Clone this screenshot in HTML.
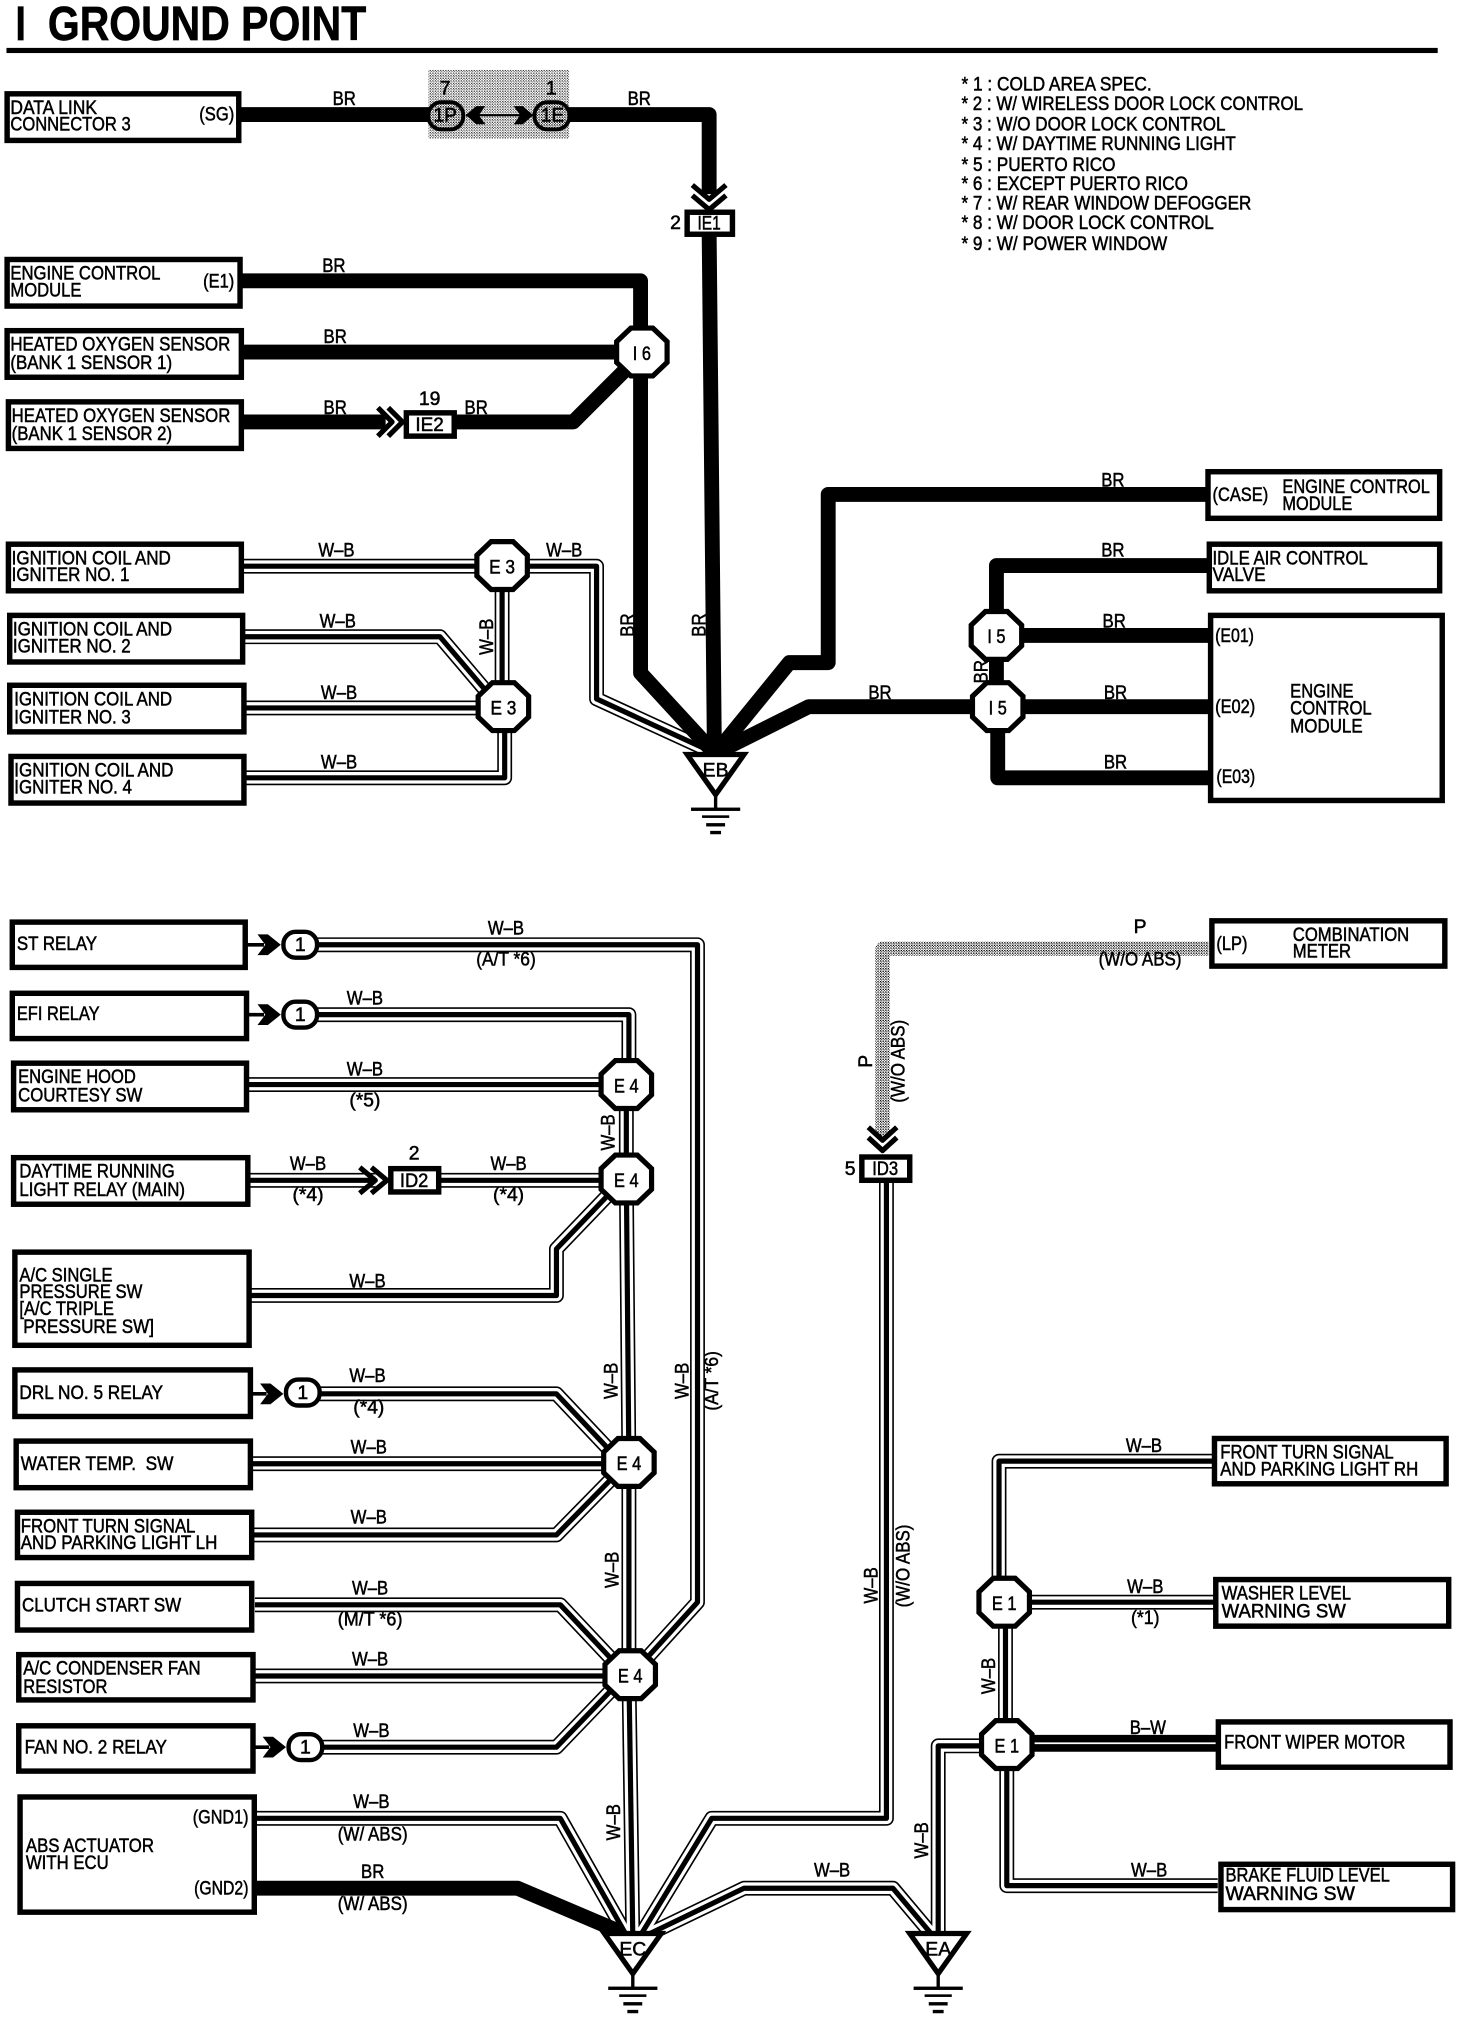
<!DOCTYPE html>
<html>
<head>
<meta charset="utf-8">
<title>Ground Point</title>
<style>
html,body{margin:0;padding:0;background:#fff;width:1472px;height:2028px;overflow:hidden}
svg{display:block}
text{font-family:"Liberation Sans",Arial,sans-serif;font-size:15px;fill:#000;stroke:#000;stroke-width:.4}
.m{text-anchor:middle}
.b{fill:#fff;stroke:#000;stroke-width:4.2}
.n{fill:none;stroke-linejoin:round}
</style>
</head>
<body>
<svg xmlns="http://www.w3.org/2000/svg" width="1472" height="2028" viewBox="0 0 1137.5 1567" preserveAspectRatio="none">
<defs>
<pattern id="d1" width="2" height="2" patternUnits="userSpaceOnUse"><rect width="2" height="2" fill="#fff"/><rect width="1" height="1" fill="#000"/><rect x="1" y="1" width=".7" height=".7" fill="#000"/></pattern>
<polygon id="oct" points="-8.500,-18.500 8.500,-18.500 19.500,-8 19.500,8 8.500,18.500 -8.500,18.500 -19.500,8 -19.500,-8" fill="#fff" stroke="#000" stroke-width="4"/>
<rect id="conn" x="-13" y="-10" width="26" height="20" rx="9.5" fill="#fff" stroke="#000" stroke-width="3.4"/>
<path id="sch" d="M-19 -8H-11L-1 0L-11 8H-19L-13 0Z M-32 -1.4H-14V1.4H-32Z" fill="#000"/>
<g id="gnd">
<polygon points="-22,1 22,1 0,32" fill="#fff" stroke="#000" stroke-width="4" stroke-linejoin="miter"/>
<path d="M0 32V43" stroke="#000" stroke-width="2.6"/>
<rect x="-19" y="42" width="38" height="2.6"/>
<rect x="-10.500" y="48" width="21" height="2"/>
<rect x="-7.300" y="54" width="14.600" height="2.600"/>
<rect x="-4.200" y="60" width="8.400" height="2.600"/>
</g>
<g id="wb" class="n">
<path d="M188 437.5H461V540L548 580"/>
<path d="M388 437V546"/>
<path d="M189 492H340L374 532"/>
<path d="M190 547H380"/>
<path d="M190 601H390V555"/>
<path d="M240 730H539V1238L490 1292"/>
<path d="M240 784H486V838"/>
<path d="M192 838H480"/>
<path d="M484 838L484 911L486 1130L486 1294L489 1497"/>
<path d="M193 912H290"/>
<path d="M335 912H480"/>
<path d="M194 1001H430V965L478 915"/>
<path d="M245 1077H430L480 1130"/>
<path d="M195 1131H480"/>
<path d="M196 1186H430L480 1135"/>
<path d="M197 1240H433L482 1292"/>
<path d="M197 1295H480"/>
<path d="M245 1350H430L482 1296"/>
<path d="M198 1405H433L485 1497"/>
<path d="M685 905V1405H550L494 1497"/>
<path d="M496 1497L575 1459H690L722 1497"/>
<path d="M937 1129H772V1238"/>
<path d="M790 1238H938"/>
<path d="M777 1238V1348"/>
<path d="M778 1348V1457H941"/>
<path d="M770 1349H725V1497"/>
</g>
</defs>
<rect width="1137.5" height="1567" fill="#fff"/>

<text x="12" y="31" style="font-size:37px;font-weight:bold;stroke-width:.5" textLength="8" lengthAdjust="spacingAndGlyphs">I</text>
<text x="37" y="31" style="font-size:37px;font-weight:bold;stroke-width:.5" textLength="246" lengthAdjust="spacingAndGlyphs">GROUND POINT</text>
<rect x="5" y="37" width="1106" height="4"/>

<rect x="331" y="54" width="109" height="53" fill="url(#d1)" opacity=".75"/>

<use href="#wb" stroke="#000" stroke-width="11.5"/>
<use href="#wb" stroke="#fff" stroke-width="9"/>
<use href="#wb" stroke="#000" stroke-width="4"/>

<!-- BR thick -->
<g class="n" stroke="#000" stroke-width="11.5">
<path d="M186 88.5H332"/>
<path d="M438 88.5H548V150"/>
<path d="M548 180L552 575L553 582"/>
<path d="M187 217H495V272V520L552 582"/>
<path d="M188 272H480"/>
<path d="M188 326H298"/>
<path d="M351 326H443L487 282"/>
<path d="M932 382H640V512H610L553 582"/>
<path d="M933 437H770V546"/>
<path d="M770 491H934"/>
<path d="M770 546H934"/>
<path d="M770 546H625L553 582"/>
<path d="M771 546V601H934"/>
<path d="M198 1459H400L480 1493"/>
<path d="M798 1347H940" stroke-width="13"/>
</g>
<path d="M798 1347H940" stroke="#fff" stroke-width="1.4"/>

<!-- P wire -->
<path class="n" d="M934 733H682V878" stroke="url(#d1)" stroke-width="11"/>

<!-- chevrons -->
<g class="n" stroke="#000" stroke-width="4" stroke-linejoin="miter">
<path d="M535 143L548 154L561 143M535 151L548 162L561 151"/>
<path d="M292 315L303 326L292 337M300 315L311 326L300 337"/>
<path d="M278 902L290 912L278 922M287 902L299 912L287 922"/>
<path d="M671 871L682 881L693 871M671 879L682 889L693 879"/>
</g>

<!-- double-arrow between 1P and 1E -->
<path d="M360 89H412" stroke="#000" stroke-width="1.6"/>
<path d="M360 89L368 82H375L370 89L375 96H368Z M412 89L404 82H397L402 89L397 96H404Z" fill="#000"/>
<rect x="331" y="79" width="27" height="21" rx="10" fill="url(#d1)" stroke="#000" stroke-width="3"/>
<rect x="413" y="79" width="27" height="21" rx="10" fill="url(#d1)" stroke="#000" stroke-width="3"/>
<text class="m" x="344" y="94" textLength="18" lengthAdjust="spacingAndGlyphs">1P</text>
<text class="m" x="427" y="94" textLength="18" lengthAdjust="spacingAndGlyphs">1E</text>
<text class="m" x="344" y="73">7</text>
<text class="m" x="426" y="73">1</text>

<!-- Connector boxes -->
<rect class="b" x="531" y="164" width="35" height="17"/>
<text class="m" x="548" y="177.500" textLength="18" lengthAdjust="spacingAndGlyphs">IE1</text>
<text class="m" x="522" y="177">2</text>
<rect class="b" x="314" y="319" width="37" height="18"/>
<text class="m" x="332" y="333" textLength="22" lengthAdjust="spacingAndGlyphs">IE2</text>
<text class="m" x="332" y="313">19</text>
<rect class="b" x="302" y="903" width="37" height="18"/>
<text class="m" x="320" y="917" textLength="22" lengthAdjust="spacingAndGlyphs">ID2</text>
<text class="m" x="320" y="896">2</text>
<rect class="b" x="666" y="894" width="37" height="18"/>
<text class="m" x="684" y="908" textLength="20" lengthAdjust="spacingAndGlyphs">ID3</text>
<text class="m" x="657" y="908">5</text>

<!-- small relay connectors -->
<use href="#sch" x="218" y="730"/><use href="#conn" x="232" y="730"/><text class="m" x="232" y="735">1</text>
<use href="#sch" x="218" y="784"/><use href="#conn" x="232" y="784"/><text class="m" x="232" y="789">1</text>
<use href="#sch" x="220" y="1077"/><use href="#conn" x="234" y="1076"/><text class="m" x="234" y="1081">1</text>
<use href="#sch" x="222" y="1350"/><use href="#conn" x="236" y="1350"/><text class="m" x="236" y="1355">1</text>

<!-- junctions -->
<use href="#oct" x="496" y="272"/><text class="m" x="496" y="278" textLength="14" lengthAdjust="spacingAndGlyphs">I 6</text>
<use href="#oct" x="388" y="437"/><text class="m" x="388" y="443" textLength="20" lengthAdjust="spacingAndGlyphs">E 3</text>
<use href="#oct" x="389" y="546"/><text class="m" x="389" y="552" textLength="20" lengthAdjust="spacingAndGlyphs">E 3</text>
<use href="#oct" x="770" y="491"/><text class="m" x="770" y="497" textLength="14" lengthAdjust="spacingAndGlyphs">I 5</text>
<use href="#oct" x="771" y="546"/><text class="m" x="771" y="552" textLength="14" lengthAdjust="spacingAndGlyphs">I 5</text>
<use href="#oct" x="484" y="838"/><text class="m" x="484" y="844" textLength="19" lengthAdjust="spacingAndGlyphs">E 4</text>
<use href="#oct" x="484" y="911"/><text class="m" x="484" y="917" textLength="19" lengthAdjust="spacingAndGlyphs">E 4</text>
<use href="#oct" x="486" y="1130"/><text class="m" x="486" y="1136" textLength="19" lengthAdjust="spacingAndGlyphs">E 4</text>
<use href="#oct" x="487" y="1294"/><text class="m" x="487" y="1300" textLength="19" lengthAdjust="spacingAndGlyphs">E 4</text>
<use href="#oct" x="776" y="1238"/><text class="m" x="776" y="1244" textLength="19" lengthAdjust="spacingAndGlyphs">E 1</text>
<use href="#oct" x="778" y="1348"/><text class="m" x="778" y="1354" textLength="19" lengthAdjust="spacingAndGlyphs">E 1</text>

<!-- ground triangles -->
<use href="#gnd" x="553" y="582"/><text class="m" x="553" y="600">EB</text>
<use href="#gnd" x="489" y="1493"/><text class="m" x="489" y="1511">EC</text>
<use href="#gnd" x="725" y="1493"/><text class="m" x="725" y="1511">EA</text>

<!-- boxes -->
<g class="b">
<rect x="5.500" y="72.500" width="179" height="36"/>
<rect x="5.500" y="200.500" width="180" height="36"/>
<rect x="5.500" y="255.500" width="181" height="36"/>
<rect x="6.500" y="310.500" width="180" height="36"/>
<rect x="6.500" y="420.500" width="180" height="36"/>
<rect x="7.500" y="475.500" width="180" height="36"/>
<rect x="7.500" y="529.500" width="181" height="36"/>
<rect x="8.500" y="584.500" width="180" height="36"/>
<rect x="933.500" y="364.500" width="179" height="36"/>
<rect x="934.500" y="420.500" width="178" height="36"/>
<rect x="935.500" y="475.500" width="179" height="143"/>
<rect x="9.500" y="712.500" width="180" height="35"/>
<rect x="9.500" y="767.500" width="181" height="35"/>
<rect x="10.500" y="821.500" width="180" height="36"/>
<rect x="10.500" y="894.500" width="181" height="36"/>
<rect x="11.500" y="967.500" width="181" height="72"/>
<rect x="11.500" y="1058.500" width="182" height="36"/>
<rect x="12.500" y="1113.500" width="181" height="36"/>
<rect x="13.500" y="1168.500" width="181" height="35"/>
<rect x="13.500" y="1223.500" width="181" height="36"/>
<rect x="14.500" y="1278.500" width="181" height="35"/>
<rect x="14.500" y="1333.500" width="181" height="35"/>
<rect x="15.500" y="1388.500" width="181" height="89"/>
<rect x="936.500" y="711.500" width="180" height="35"/>
<rect x="938.500" y="1111.500" width="179" height="35"/>
<rect x="939.500" y="1220.500" width="180" height="36"/>
<rect x="941.500" y="1330.500" width="179" height="35"/>
<rect x="943.500" y="1440.500" width="179" height="35"/>
</g>

<!-- Box labels -->
<g>
<text x="8" y="88" textLength="67" lengthAdjust="spacingAndGlyphs">DATA LINK</text>
<text x="8" y="101" textLength="93" lengthAdjust="spacingAndGlyphs">CONNECTOR 3</text>
<text x="154" y="93" textLength="27" lengthAdjust="spacingAndGlyphs">(SG)</text>
<text x="8" y="216" textLength="116" lengthAdjust="spacingAndGlyphs">ENGINE CONTROL</text>
<text x="8" y="229" textLength="55" lengthAdjust="spacingAndGlyphs">MODULE</text>
<text x="157" y="222" textLength="24" lengthAdjust="spacingAndGlyphs">(E1)</text>
<text x="8" y="271" textLength="170" lengthAdjust="spacingAndGlyphs">HEATED OXYGEN SENSOR</text>
<text x="8" y="285" textLength="125" lengthAdjust="spacingAndGlyphs">(BANK 1 SENSOR 1)</text>
<text x="9" y="326" textLength="169" lengthAdjust="spacingAndGlyphs">HEATED OXYGEN SENSOR</text>
<text x="9" y="340" textLength="124" lengthAdjust="spacingAndGlyphs">(BANK 1 SENSOR 2)</text>
<text x="9" y="436" textLength="123" lengthAdjust="spacingAndGlyphs">IGNITION COIL AND</text>
<text x="9" y="449" textLength="91" lengthAdjust="spacingAndGlyphs">IGNITER NO. 1</text>
<text x="10" y="491" textLength="123" lengthAdjust="spacingAndGlyphs">IGNITION COIL AND</text>
<text x="10" y="504" textLength="91" lengthAdjust="spacingAndGlyphs">IGNITER NO. 2</text>
<text x="11" y="545" textLength="122" lengthAdjust="spacingAndGlyphs">IGNITION COIL AND</text>
<text x="11" y="559" textLength="90" lengthAdjust="spacingAndGlyphs">IGNITER NO. 3</text>
<text x="11" y="600" textLength="123" lengthAdjust="spacingAndGlyphs">IGNITION COIL AND</text>
<text x="11" y="613" textLength="91" lengthAdjust="spacingAndGlyphs">IGNITER NO. 4</text>
<text x="937" y="387" textLength="43" lengthAdjust="spacingAndGlyphs">(CASE)</text>
<text x="991" y="381" textLength="114" lengthAdjust="spacingAndGlyphs">ENGINE CONTROL</text>
<text x="991" y="394" textLength="54" lengthAdjust="spacingAndGlyphs">MODULE</text>
<text x="937" y="436" textLength="120" lengthAdjust="spacingAndGlyphs">IDLE AIR CONTROL</text>
<text x="937" y="449" textLength="41" lengthAdjust="spacingAndGlyphs">VALVE</text>
<text x="939" y="496" textLength="30" lengthAdjust="spacingAndGlyphs">(E01)</text>
<text x="939" y="551" textLength="31" lengthAdjust="spacingAndGlyphs">(E02)</text>
<text x="940" y="605" textLength="30" lengthAdjust="spacingAndGlyphs">(E03)</text>
<text x="997" y="539" textLength="49" lengthAdjust="spacingAndGlyphs">ENGINE</text>
<text x="997" y="552" textLength="63" lengthAdjust="spacingAndGlyphs">CONTROL</text>
<text x="997" y="566" textLength="56" lengthAdjust="spacingAndGlyphs">MODULE</text>
<text x="13" y="734" textLength="62" lengthAdjust="spacingAndGlyphs">ST RELAY</text>
<text x="13" y="788" textLength="64" lengthAdjust="spacingAndGlyphs">EFI RELAY</text>
<text x="14" y="837" textLength="91" lengthAdjust="spacingAndGlyphs">ENGINE HOOD</text>
<text x="14" y="851" textLength="96" lengthAdjust="spacingAndGlyphs">COURTESY SW</text>
<text x="15" y="910" textLength="120" lengthAdjust="spacingAndGlyphs">DAYTIME RUNNING</text>
<text x="15" y="924" textLength="128" lengthAdjust="spacingAndGlyphs">LIGHT RELAY (MAIN)</text>
<text x="15" y="990" textLength="72" lengthAdjust="spacingAndGlyphs">A/C SINGLE</text>
<text x="15" y="1003" textLength="95" lengthAdjust="spacingAndGlyphs">PRESSURE SW</text>
<text x="15" y="1016" textLength="73" lengthAdjust="spacingAndGlyphs">[A/C TRIPLE</text>
<text x="18" y="1030" textLength="101" lengthAdjust="spacingAndGlyphs">PRESSURE SW]</text>
<text x="15" y="1081" textLength="111" lengthAdjust="spacingAndGlyphs">DRL NO. 5 RELAY</text>
<text x="16" y="1136" textLength="118" lengthAdjust="spacingAndGlyphs">WATER TEMP.&#160;&#160;SW</text>
<text x="16" y="1184" textLength="135" lengthAdjust="spacingAndGlyphs">FRONT TURN SIGNAL</text>
<text x="16" y="1197" textLength="152" lengthAdjust="spacingAndGlyphs">AND PARKING LIGHT LH</text>
<text x="17" y="1245" textLength="123" lengthAdjust="spacingAndGlyphs">CLUTCH START SW</text>
<text x="18" y="1294" textLength="137" lengthAdjust="spacingAndGlyphs">A/C CONDENSER FAN</text>
<text x="18" y="1308" textLength="65" lengthAdjust="spacingAndGlyphs">RESISTOR</text>
<text x="19" y="1355" textLength="110" lengthAdjust="spacingAndGlyphs">FAN NO. 2 RELAY</text>
<text x="20" y="1431" textLength="99" lengthAdjust="spacingAndGlyphs">ABS ACTUATOR</text>
<text x="20" y="1444" textLength="64" lengthAdjust="spacingAndGlyphs">WITH ECU</text>
<text x="149" y="1409" textLength="43" lengthAdjust="spacingAndGlyphs">(GND1)</text>
<text x="150" y="1464" textLength="42" lengthAdjust="spacingAndGlyphs">(GND2)</text>
<text x="940" y="734" textLength="24" lengthAdjust="spacingAndGlyphs">(LP)</text>
<text x="999" y="727" textLength="90" lengthAdjust="spacingAndGlyphs">COMBINATION</text>
<text x="999" y="740" textLength="45" lengthAdjust="spacingAndGlyphs">METER</text>
<text x="943" y="1127" textLength="134" lengthAdjust="spacingAndGlyphs">FRONT TURN SIGNAL</text>
<text x="943" y="1140" textLength="153" lengthAdjust="spacingAndGlyphs">AND PARKING LIGHT RH</text>
<text x="944" y="1236" textLength="100" lengthAdjust="spacingAndGlyphs">WASHER LEVEL</text>
<text x="944" y="1250" textLength="96" lengthAdjust="spacingAndGlyphs">WARNING SW</text>
<text x="946" y="1351" textLength="140" lengthAdjust="spacingAndGlyphs">FRONT WIPER MOTOR</text>
<text x="947" y="1454" textLength="127" lengthAdjust="spacingAndGlyphs">BRAKE FLUID LEVEL</text>
<text x="947" y="1468" textLength="100" lengthAdjust="spacingAndGlyphs">WARNING SW</text>
</g>

<!-- Legend -->
<g>
<text x="743" y="70" textLength="147" lengthAdjust="spacingAndGlyphs">* 1 : COLD AREA SPEC.</text>
<text x="743" y="85" textLength="264" lengthAdjust="spacingAndGlyphs">* 2 : W/ WIRELESS DOOR LOCK CONTROL</text>
<text x="743" y="101" textLength="204" lengthAdjust="spacingAndGlyphs">* 3 : W/O DOOR LOCK CONTROL</text>
<text x="743" y="116" textLength="212" lengthAdjust="spacingAndGlyphs">* 4 : W/ DAYTIME RUNNING LIGHT</text>
<text x="743" y="132" textLength="119" lengthAdjust="spacingAndGlyphs">* 5 : PUERTO RICO</text>
<text x="743" y="147" textLength="175" lengthAdjust="spacingAndGlyphs">* 6 : EXCEPT PUERTO RICO</text>
<text x="743" y="162" textLength="224" lengthAdjust="spacingAndGlyphs">* 7 : W/ REAR WINDOW DEFOGGER</text>
<text x="743" y="177" textLength="195" lengthAdjust="spacingAndGlyphs">* 8 : W/ DOOR LOCK CONTROL</text>
<text x="743" y="193" textLength="159" lengthAdjust="spacingAndGlyphs">* 9 : W/ POWER WINDOW</text>
</g>

<!-- Wire labels -->
<g>
<text class="m" x="266" y="81" textLength="18" lengthAdjust="spacingAndGlyphs">BR</text><text class="m" x="494" y="81" textLength="18" lengthAdjust="spacingAndGlyphs">BR</text>
<text class="m" x="258" y="210" textLength="18" lengthAdjust="spacingAndGlyphs">BR</text><text class="m" x="259" y="265" textLength="18" lengthAdjust="spacingAndGlyphs">BR</text>
<text class="m" x="259" y="320" textLength="18" lengthAdjust="spacingAndGlyphs">BR</text><text class="m" x="368" y="320" textLength="18" lengthAdjust="spacingAndGlyphs">BR</text>
<text class="m" x="860" y="376" textLength="18" lengthAdjust="spacingAndGlyphs">BR</text><text class="m" x="860" y="430" textLength="18" lengthAdjust="spacingAndGlyphs">BR</text>
<text class="m" x="861" y="485" textLength="18" lengthAdjust="spacingAndGlyphs">BR</text><text class="m" x="862" y="540" textLength="18" lengthAdjust="spacingAndGlyphs">BR</text>
<text class="m" x="862" y="594" textLength="18" lengthAdjust="spacingAndGlyphs">BR</text><text class="m" x="680" y="540" textLength="18" lengthAdjust="spacingAndGlyphs">BR</text>
<text class="m" x="260" y="430" textLength="28" lengthAdjust="spacingAndGlyphs">W–B</text><text class="m" x="261" y="485" textLength="28" lengthAdjust="spacingAndGlyphs">W–B</text>
<text class="m" x="262" y="540" textLength="28" lengthAdjust="spacingAndGlyphs">W–B</text><text class="m" x="262" y="594" textLength="28" lengthAdjust="spacingAndGlyphs">W–B</text>
<text class="m" x="436" y="430" textLength="28" lengthAdjust="spacingAndGlyphs">W–B</text>
<text class="m" x="391" y="722" textLength="28" lengthAdjust="spacingAndGlyphs">W–B</text><text class="m" x="391" y="746" textLength="46" lengthAdjust="spacingAndGlyphs">(A/T *6)</text>
<text class="m" x="282" y="776" textLength="28" lengthAdjust="spacingAndGlyphs">W–B</text>
<text class="m" x="282" y="831" textLength="28" lengthAdjust="spacingAndGlyphs">W–B</text><text class="m" x="282" y="855" textLength="24" lengthAdjust="spacingAndGlyphs">(*5)</text>
<text class="m" x="238" y="904" textLength="28" lengthAdjust="spacingAndGlyphs">W–B</text><text class="m" x="238" y="928" textLength="24" lengthAdjust="spacingAndGlyphs">(*4)</text>
<text class="m" x="393" y="904" textLength="28" lengthAdjust="spacingAndGlyphs">W–B</text><text class="m" x="393" y="928" textLength="24" lengthAdjust="spacingAndGlyphs">(*4)</text>
<text class="m" x="284" y="995" textLength="28" lengthAdjust="spacingAndGlyphs">W–B</text>
<text class="m" x="284" y="1068" textLength="28" lengthAdjust="spacingAndGlyphs">W–B</text><text class="m" x="285" y="1092" textLength="24" lengthAdjust="spacingAndGlyphs">(*4)</text>
<text class="m" x="285" y="1123" textLength="28" lengthAdjust="spacingAndGlyphs">W–B</text>
<text class="m" x="285" y="1177" textLength="28" lengthAdjust="spacingAndGlyphs">W–B</text>
<text class="m" x="286" y="1232" textLength="28" lengthAdjust="spacingAndGlyphs">W–B</text><text class="m" x="286" y="1256" textLength="50" lengthAdjust="spacingAndGlyphs">(M/T *6)</text>
<text class="m" x="286" y="1287" textLength="28" lengthAdjust="spacingAndGlyphs">W–B</text>
<text class="m" x="287" y="1342" textLength="28" lengthAdjust="spacingAndGlyphs">W–B</text>
<text class="m" x="287" y="1397" textLength="28" lengthAdjust="spacingAndGlyphs">W–B</text><text class="m" x="288" y="1422" textLength="54" lengthAdjust="spacingAndGlyphs">(W/ ABS)</text>
<text class="m" x="288" y="1451" textLength="18" lengthAdjust="spacingAndGlyphs">BR</text><text class="m" x="288" y="1476" textLength="54" lengthAdjust="spacingAndGlyphs">(W/ ABS)</text>
<text class="m" x="881" y="721">P</text><text class="m" x="881" y="746" textLength="64" lengthAdjust="spacingAndGlyphs">(W/O ABS)</text>
<text class="m" x="884" y="1122" textLength="28" lengthAdjust="spacingAndGlyphs">W–B</text>
<text class="m" x="885" y="1231" textLength="28" lengthAdjust="spacingAndGlyphs">W–B</text><text class="m" x="885" y="1255" textLength="22" lengthAdjust="spacingAndGlyphs">(*1)</text>
<text class="m" x="887" y="1340" textLength="28" lengthAdjust="spacingAndGlyphs">B–W</text>
<text class="m" x="888" y="1450" textLength="28" lengthAdjust="spacingAndGlyphs">W–B</text>
<text class="m" x="643" y="1450" textLength="28" lengthAdjust="spacingAndGlyphs">W–B</text>

<text class="m" transform="translate(490,483) rotate(-90)" textLength="18" lengthAdjust="spacingAndGlyphs">BR</text>
<text class="m" transform="translate(545,483) rotate(-90)" textLength="18" lengthAdjust="spacingAndGlyphs">BR</text>
<text class="m" transform="translate(763,519) rotate(-90)" textLength="18" lengthAdjust="spacingAndGlyphs">BR</text>
<text class="m" transform="translate(381,492) rotate(-90)" textLength="28" lengthAdjust="spacingAndGlyphs">W–B</text>
<text class="m" transform="translate(475,875) rotate(-90)" textLength="28" lengthAdjust="spacingAndGlyphs">W–B</text>
<text class="m" transform="translate(477,1067) rotate(-90)" textLength="28" lengthAdjust="spacingAndGlyphs">W–B</text>
<text class="m" transform="translate(478,1213) rotate(-90)" textLength="28" lengthAdjust="spacingAndGlyphs">W–B</text>
<text class="m" transform="translate(479,1408) rotate(-90)" textLength="28" lengthAdjust="spacingAndGlyphs">W–B</text>
<text class="m" transform="translate(532,1067) rotate(-90)" textLength="28" lengthAdjust="spacingAndGlyphs">W–B</text>
<text class="m" transform="translate(555,1067) rotate(-90)" textLength="46" lengthAdjust="spacingAndGlyphs">(A/T *6)</text>
<text class="m" transform="translate(674,820) rotate(-90)">P</text>
<text class="m" transform="translate(699,820) rotate(-90)" textLength="64" lengthAdjust="spacingAndGlyphs">(W/O ABS)</text>
<text class="m" transform="translate(678,1225) rotate(-90)" textLength="28" lengthAdjust="spacingAndGlyphs">W–B</text>
<text class="m" transform="translate(703,1210) rotate(-90)" textLength="64" lengthAdjust="spacingAndGlyphs">(W/O ABS)</text>
<text class="m" transform="translate(769,1295) rotate(-90)" textLength="28" lengthAdjust="spacingAndGlyphs">W–B</text>
<text class="m" transform="translate(717,1422) rotate(-90)" textLength="28" lengthAdjust="spacingAndGlyphs">W–B</text>
</g>
</svg>
</body>
</html>
